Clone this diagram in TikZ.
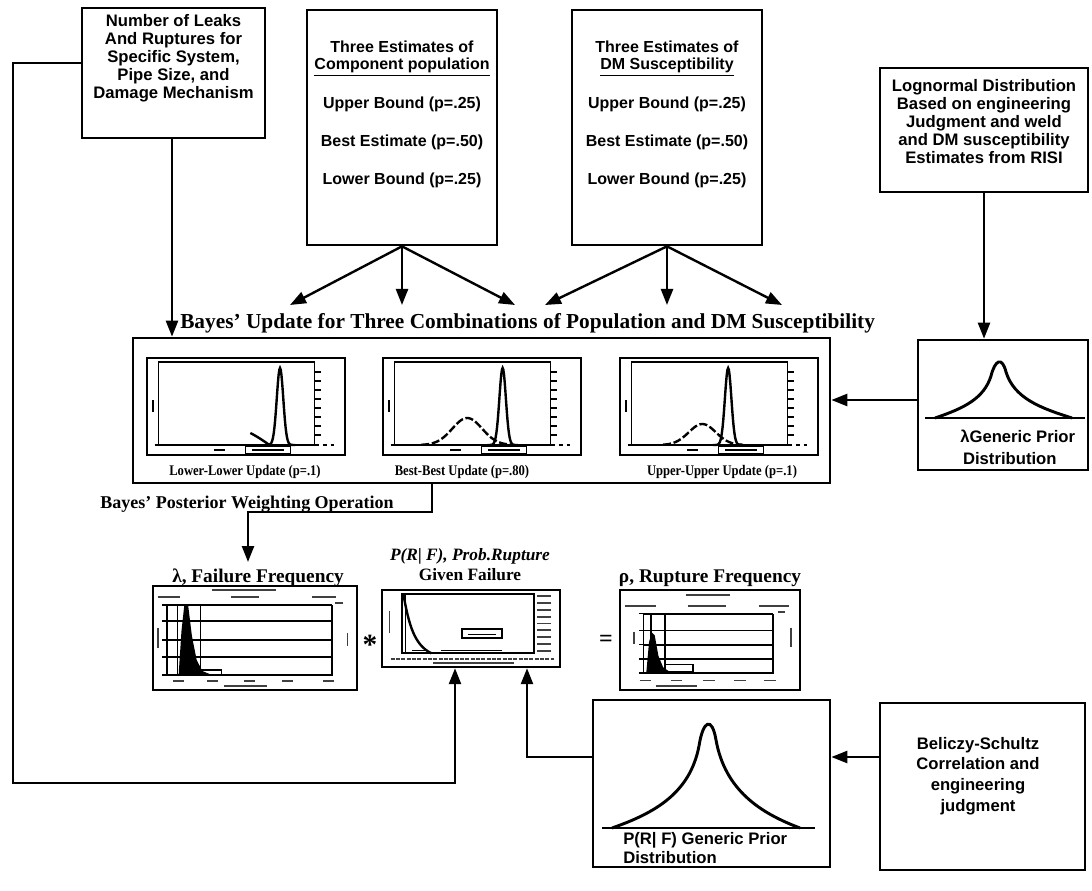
\documentclass[tikz,border=0pt]{standalone}
\usepackage{fontspec}
\setmainfont{Liberation Serif}
\setsansfont{Liberation Sans}
\newfontfamily\condserif{Liberation Serif}[FakeStretch=0.86]
\usetikzlibrary{arrows.meta,calc}
\newcommand{\UpdFrame}{%
 \draw[line width=1.4pt] (12,4) rectangle (175,87);
 \foreach \t in {14,23,...,82} \draw[line width=1.2pt] (175,\t) -- (182,\t);
 \draw[line width=1.8pt,dash pattern=on 3.5pt off 2.5pt] (8,87) -- (195,87);
 \draw[line width=1pt] (103,88) rectangle (150,96);
 \draw[line width=1pt] (110,92) -- (143,92);
 \draw[line width=1.2pt] (70,92) -- (82,92);
 \draw[line width=1.2pt] (6,42) -- (6,54);
}
\begin{document}
\begin{tikzpicture}[x=0.75pt,y=-0.75pt,
  box/.style={draw,line width=2pt,inner sep=0pt},
  frm/.style={draw,line width=1.8pt,inner sep=0pt},
  arr/.style={line width=1.8pt,-{Triangle[length=12pt,width=9pt]}},
  sft/.style={font=\sffamily\bfseries\fontsize{12.5}{13.5}\selectfont,align=center,inner sep=0pt},
  sfs/.style={font=\sffamily\bfseries\fontsize{12}{13.5}\selectfont,align=center,inner sep=0pt},
  hd/.style={font=\bfseries\fontsize{16}{18}\selectfont,inner sep=0pt},
  lb/.style={font=\condserif\bfseries\fontsize{11}{12}\selectfont,inner sep=0pt},
  gl/.style={line width=1.4pt},
  tx/.style={line width=1.4pt,black!75},
  pk/.style={line width=1.8pt},
]
\useasboundingbox (0,0) rectangle (1092,891);

% ---------- top boxes ----------
\node[box,minimum width=137.25pt,minimum height=97.5pt] (b1) at (173.5,73) {};
\node[sft] (b1t) at (173.5,58) {Number of Leaks\\And Ruptures for\\Specific System,\\Pipe Size, and\\Damage Mechanism};

\node[box,minimum width=142.5pt,minimum height=176.25pt] (b2) at (402,127.5) {};
\node[sfs,anchor=base] (b2a) at (402,53) {Three Estimates of};
\node[sfs,anchor=base] (b2b) at (402,70) {\underline{Component population}};
\node[sfs,anchor=base] (b2c) at (402,109) {Upper Bound (p=.25)};
\node[sfs,anchor=base] (b2d) at (402,147) {Best Estimate (p=.50)};
\node[sfs,anchor=base] (b2e) at (402,185) {Lower Bound (p=.25)};

\node[box,minimum width=142.5pt,minimum height=176.25pt] (b3) at (667,127.5) {};
\node[sfs,anchor=base] (b3a) at (667,53) {Three Estimates of};
\node[sfs,anchor=base] (b3b) at (667,70) {\underline{DM Susceptibility}};
\node[sfs,anchor=base] (b3c) at (667,109) {Upper Bound (p=.25)};
\node[sfs,anchor=base] (b3d) at (667,147) {Best Estimate (p=.50)};
\node[sfs,anchor=base] (b3e) at (667,185) {Lower Bound (p=.25)};

\node[box,minimum width=156pt,minimum height=93pt] (b4) at (984,130) {};
\node[sft] (b4t) at (984,122) {Lognormal Distribution\\Based on engineering\\Judgment and weld\\and DM susceptibility\\Estimates from RISI};

% ---------- lambda generic prior ----------
\node[box,minimum width=127.5pt,minimum height=97.5pt] (pr1) at (1003,405) {};
\draw[line width=1.2pt] (925,418) -- (1085,418);
\draw[line width=2.2pt] (935,418) .. controls (965,408) and (984,398) .. (991,376) .. controls (995,360) and (1002,356) .. (1006,372) .. controls (1014,398) and (1040,408) .. (1072,418);
\node[align=left,anchor=north west,inner sep=0pt,font=\sffamily\bfseries\fontsize{12.5}{16.5}\selectfont] (pr1t) at (960,430) {λGeneric Prior\\\,Distribution};

% ---------- update box ----------
\node[hd,anchor=base west] (title) at (180,328) {Bayes' Update for Three Combinations of Population and DM Susceptibility};
\node[box,minimum width=522.75pt,minimum height=108.75pt] (upd) at (481.5,410.5) {};

\node[frm,minimum width=148.5pt,minimum height=72.75pt] (p1) at (246,406.5) {};
\node[frm,minimum width=148.5pt,minimum height=72.75pt] (p2) at (482,406.5) {};
\node[frm,minimum width=148.5pt,minimum height=72.75pt] (p3) at (719,406.5) {};

\begin{scope}[shift={(147,358)},xscale=0.957]
 \UpdFrame
 \draw[pk] plot[domain=123:155,samples=45] (\x,{87-77*exp(-((\x-139)/4.8)^2)});
 \draw[pk] (108,75) .. controls (116,79) and (122,83) .. (128,87);
\end{scope}
\begin{scope}[shift={(383,358)},xscale=0.957]
 \UpdFrame
 \draw[pk] plot[domain=109:141,samples=45] (\x,{87-77*exp(-((\x-125)/4.8)^2)});
 \draw[pk,dash pattern=on 6pt off 2pt] plot[domain=40:135,samples=50] (\x,{87-27*exp(-((\x-88)/22)^2)});
\end{scope}
\begin{scope}[shift={(620,358)},xscale=0.957]
 \UpdFrame
 \draw[pk] plot[domain=97:129,samples=45] (\x,{87-77*exp(-((\x-113)/4.8)^2)});
 \draw[pk,dash pattern=on 6pt off 2pt] plot[domain=45:128,samples=50] (\x,{87-21*exp(-((\x-86)/20)^2)});
\end{scope}

\node[lb,anchor=base] (l1) at (245,475) {Lower-Lower Update (p=.1)};
\node[lb,anchor=base] (l2) at (462,475) {Best-Best Update (p=.80)};
\node[lb,anchor=base] (l3) at (722,475) {Upper-Upper Update (p=.1)};

% ---------- arrows top ----------
\coordinate (lx) at (984,0);
\draw[arr] (b4.south -| lx) -- (pr1.north -| lx);
\draw[arr] (pr1.west |- 0,400) -- (upd.east |- 0,400);
\draw[arr] (b1.south -| 172,0) -- (upd.north -| 172,0);
\coordinate (t1) at (290,305); \coordinate (t2) at (402,305); \coordinate (t3) at (515,305);
\coordinate (t4) at (545,305); \coordinate (t5) at (667,305); \coordinate (t6) at (782,305);
\draw[arr] (b2.south) -- (t1);
\draw[arr] (b2.south) -- (t2);
\draw[arr] (b2.south) -- (t3);
\draw[arr] (b3.south) -- (t4);
\draw[arr] (b3.south) -- (t5);
\draw[arr] (b3.south) -- (t6);

% ---------- posterior weighting ----------
\node[font=\bfseries\fontsize{13.5}{16}\selectfont,inner sep=0pt,anchor=base west] (post) at (100,508) {Bayes' Posterior Weighting Operation};
\coordinate (wx) at (432,512); \coordinate (wl) at (248,512); \coordinate (wt) at (248,562);
\draw[arr] (upd.south -| wx) -- (wx) -- (wl) -- (wt);

% ---------- result headings ----------
\node[font=\bfseries\fontsize{14.5}{17}\selectfont,inner sep=0pt,anchor=base] (lamh) at (258,582) {λ, Failure Frequency};
\node[font=\bfseries\itshape\fontsize{13}{15}\selectfont,inner sep=0pt,anchor=base] (prfh1) at (470,560) {P(R| F), Prob.Rupture};
\node[font=\bfseries\fontsize{13}{15}\selectfont,inner sep=0pt,anchor=base] (prfh2) at (470,580) {Given Failure};
\node[font=\bfseries\fontsize{14.5}{17}\selectfont,inner sep=0pt,anchor=base] (rhoh) at (710,582) {ρ, Rupture Frequency};

% ---------- lambda plot ----------
\node[frm,minimum width=153pt,minimum height=78pt] (lam) at (255,638) {};
\begin{scope}[shift={(153,586)},xscale=0.949]
 \draw[gl] (15,19) -- (15,89) -- (189,89) -- (189,19);
 \foreach \y in {19,35,54,71} \draw[gl] (15,\y) -- (189,\y);
 \draw[line width=1pt] (26,19) -- (26,89);
 \draw[line width=1pt] (50,19) -- (50,89);
 \fill (27,89) -- (30,45) -- (33,19) -- (37,19) -- (41,50) -- (46,74) -- (52,85) -- (62,89) -- cycle;
 \foreach \y in {19,35,54,71,89} \draw[line width=1.2pt] (10,\y) -- (15,\y);
 \draw[line width=1pt] (50,84) rectangle (72,89);
 \foreach \x in {27,63,102,142,185} \draw[tx] (\x-6,95) -- (\x+6,95);
 \draw[tx] (75,100) -- (120,100);
 \draw[tx] (62,4) -- (130,4);
 \draw[tx] (5,11) -- (28,11); \draw[tx] (82,11) -- (112,11); \draw[tx] (168,11) -- (193,11);
 \draw[tx] (192,17) -- (200,17);
 \draw[tx] (5,42) -- (5,62); \draw[tx] (205,47) -- (205,60);
\end{scope}

% ---------- P(R|F) plot ----------
\node[draw,line width=1.8pt,inner sep=0pt,minimum width=133.5pt,minimum height=57.75pt] (prf) at (471,628.5) {};
\node[font=\bfseries\fontsize{22}{22}\selectfont,anchor=base,inner sep=0pt] (star) at (370,654) {*};
\begin{scope}[shift={(382,590)},xscale=1.072,yscale=0.762]
 \draw[line width=1.4pt] (19,5) rectangle (142,83);
 \draw[line width=1pt] (22,5) -- (22,83);
 \draw[pk] (20,6) .. controls (25,45) and (30,72) .. (46,83);
 \draw[line width=1.4pt] (75,51) rectangle (112,63);
 \draw[line width=1pt] (80,58) -- (106,58);
 \foreach \y in {8,17,...,80} \draw[tx] (145,\y) -- (158,\y);
 \draw[tx,dash pattern=on 3pt off 1pt] (8,90) -- (160,90);
 \draw[tx] (48,96) -- (123,96);
 \draw[line width=0.8pt] (28,80) -- (40,80);
 \draw[line width=0.8pt] (55,80) -- (112,80);
 \draw[tx] (7,27) -- (7,57);
\end{scope}

% ---------- rho plot ----------
\node[font=\bfseries\fontsize{18}{18}\selectfont,anchor=base,inner sep=0pt] (eq) at (606,646) {=};
\node[frm,minimum width=135pt,minimum height=75pt] (rho) at (710,640) {};
\begin{scope}[shift={(620,590)},xscale=0.9375,yscale=0.943]
 \draw[gl] (25,25) -- (25,88) -- (163,88) -- (163,25);
 \foreach \y in {25,43,58,73} \draw[gl] (25,\y) -- (163,\y);
 \draw[line width=1pt] (33,25) -- (33,88);
 \draw[line width=1pt] (48,25) -- (48,88);
 \fill (28,88) -- (31,55) -- (34,45) -- (37,48) -- (41,70) -- (46,82) -- (55,88) -- cycle;
 \draw[line width=1pt] (48,79) rectangle (78,87);
 \foreach \y in {25,43,58,73,88} \draw[line width=1.2pt] (20,\y) -- (25,\y);
 \foreach \x in {27,60,95,128,160} \draw[tx] (\x-6,96) -- (\x+6,96);
 \draw[tx] (38,102) -- (82,102);
 \draw[tx] (70,5) -- (117,5);
 \draw[tx] (5,17) -- (38,17); \draw[tx] (72,17) -- (113,17); \draw[tx] (148,17) -- (180,17);
 \draw[tx] (168,23) -- (176,23);
 \draw[tx] (15,45) -- (15,57); \draw[tx] (182,40) -- (182,60);
\end{scope}

% ---------- bottom boxes ----------
\node[box,minimum width=177.75pt,minimum height=125.25pt] (pr2) at (711.5,783.5) {};
\draw[line width=1.2pt] (602,828) -- (815,828);
\draw[line width=2.2pt] (612,828) .. controls (655,813) and (690,793) .. (699,746) .. controls (703,720) and (712,716) .. (716,740) .. controls (725,790) and (760,813) .. (800,828);
\node[align=left,anchor=north west,inner sep=0pt,font=\sffamily\bfseries\fontsize{12.5}{14}\selectfont] (pr2t) at (623,832) {P(R| F) Generic Prior\\Distribution};

\node[box,minimum width=153.75pt,minimum height=125.25pt] (bel) at (982.5,786.5) {};
\node[font=\sffamily\bfseries\fontsize{12.5}{15.5}\selectfont,align=center,inner sep=0pt] (belt) at (978,776) {Beliczy-Schultz\\Correlation and\\engineering\\judgment};

% ---------- long feedback connectors ----------
\coordinate (c1) at (13,63); \coordinate (c2) at (13,783);
\coordinate (pa) at (455,0); \coordinate (pb) at (527,0); \coordinate (yb) at (0,757);
\draw[arr] (b1.west |- c1) -- (c1) -- (c2) -- (c2 -| pa) -- (prf.south -| pa);
\draw[arr] (pr2.west |- yb) -| (prf.south -| pb);
\draw[arr] (bel.west |- yb) -- (pr2.east |- yb);
\end{tikzpicture}
\end{document}
